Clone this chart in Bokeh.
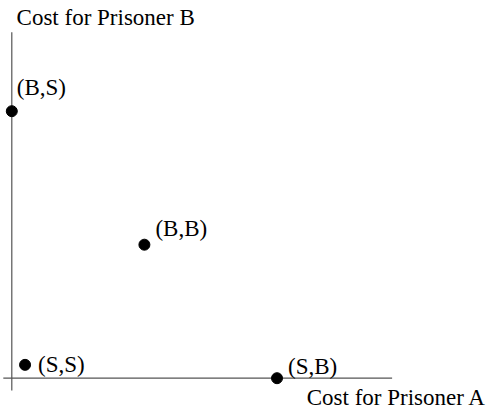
from bokeh.plotting import figure
from bokeh.models import Range1d, ColumnDataSource
from bokeh.embed import file_html
from bokeh.resources import INLINE
from bokeh.core.properties import value

# ---- data ----
outcomes = ["(S,S)", "(S,B)", "(B,S)", "(B,B)"]
cost_a = [0.5, 10, 0, 5]
cost_b = [0.5, 0, 10, 5]
x_title = "Cost for Prisoner A"
y_title = "Cost for Prisoner B"

# ---- layout / style ----
label_dx = [13, 11, 5, 11]
label_dy = [0, -12, -24, -16]
axis_x_extent = [-0.32, 14.34]
axis_y_extent = [-0.46, 12.96]
FONT = value("Liberation Serif")
FSIZE = "23px"

p = figure(width=490, height=411, output_backend="svg", toolbar_location=None,
           x_range=Range1d(-0.426, 18.05), y_range=Range1d(-1.247, 14.146),
           x_axis_location=None, y_axis_location=None, min_border=0,
           outline_line_color=None, background_fill_color="white",
           border_fill_color="white")
p.grid.visible = False

# axis lines
p.segment(x0=[axis_x_extent[0], 0], y0=[0, axis_y_extent[0]],
          x1=[axis_x_extent[1], 0], y1=[0, axis_y_extent[1]],
          line_color="#555555", line_width=1.2)

src = ColumnDataSource(dict(a=cost_a, b=cost_b, label=outcomes,
                            dx=label_dx, dy=label_dy))
p.scatter("a", "b", source=src, size=11, color="black")
p.text(x="a", y="b", text="label", x_offset="dx", y_offset="dy", source=src,
       text_font=FONT, text_font_size=FSIZE, text_baseline="alphabetic",
       text_align="left", text_color="black")

# axis titles
p.text(x=[0.18], y=[13.52], text=[y_title], text_font=FONT,
       text_font_size=FSIZE, text_baseline="alphabetic", text_align="left",
       text_color="black")
p.text(x=[11.12], y=[-0.74], text=[x_title], text_font=FONT,
       text_font_size=FSIZE, text_baseline="alphabetic", text_align="left",
       text_color="black")

open("out.html", "w").write(file_html(p, INLINE))
